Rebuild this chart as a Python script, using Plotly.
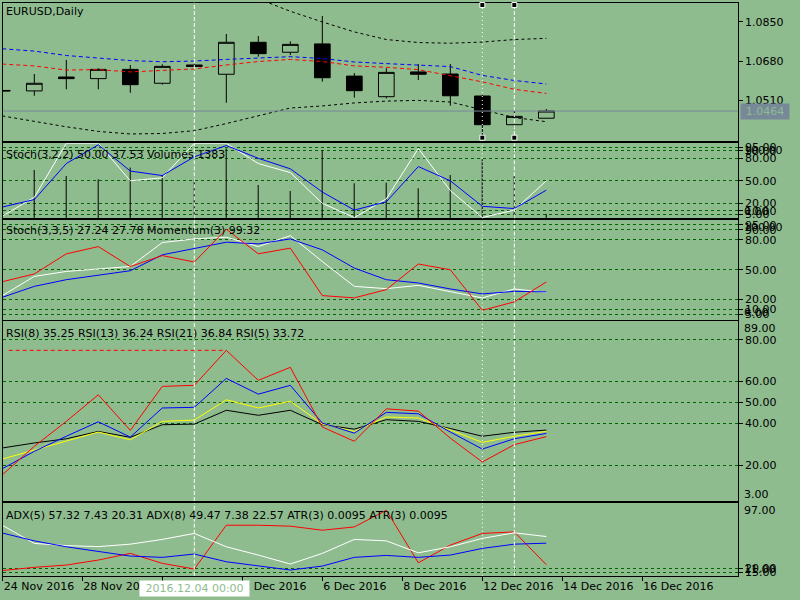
import plotly.graph_objects as go

BG = "#8FBC8F"
GRID = "#006400"
FONT = "DejaVu Sans"
FSIZE = 11

bars = list(range(18))

# EURUSD daily candles
opens = [1.0553, 1.0551, 1.0611, 1.0604, 1.0644, 1.0584, 1.0663, 1.0623, 1.0761, 1.0718,
         1.0754, 1.0615, 1.0526, 1.0633, 1.0624, 1.0529, 1.0405, 1.0433]
highs = [1.0556, 1.0624, 1.0685, 1.0649, 1.0663, 1.0666, 1.0665, 1.0797, 1.0788, 1.0765,
         1.0875, 1.0628, 1.0649, 1.0667, 1.0667, 1.0533, 1.0469, 1.0473]
lows = [1.0549, 1.0530, 1.0558, 1.0558, 1.0543, 1.0578, 1.0654, 1.0500, 1.0699, 1.0706,
        1.0591, 1.0522, 1.0519, 1.0598, 1.0487, 1.0353, 1.0392, 1.0432]
closes = [1.0551, 1.0584, 1.0604, 1.0644, 1.0578, 1.0657, 1.0657, 1.0761, 1.0712, 1.0752,
          1.0608, 1.0552, 1.0631, 1.0623, 1.0530, 1.0405, 1.0441, 1.0464]

# moving averages and envelope on the price chart
ma_blue = [1.0733, 1.0723, 1.0704, 1.0693, 1.0682, 1.0677, 1.0680, 1.0687, 1.0692, 1.0699,
           1.0691, 1.0676, 1.0669, 1.0661, 1.0656, 1.0618, 1.0596, 1.0581]
ma_red = [1.0667, 1.0659, 1.0641, 1.0643, 1.0633, 1.0639, 1.0646, 1.0663, 1.0678, 1.0687,
          1.0678, 1.0659, 1.0653, 1.0643, 1.0618, 1.0590, 1.0558, 1.0540]
band_up = [1.0987, 1.1009, 1.1030, 1.1030, 1.1022, 1.1009, 1.0987, 1.0961, 1.0949, 1.0895,
           1.0849, 1.0806, 1.0773, 1.0760, 1.0757, 1.0762, 1.0773, 1.0778]
band_dn = [1.0443, 1.0418, 1.0396, 1.0376, 1.0365, 1.0367, 1.0379, 1.0410, 1.0443, 1.0477,
           1.0486, 1.0499, 1.0507, 1.0510, 1.0503, 1.0470, 1.0436, 1.0418]

# Stoch(3,2,2) + Volumes
volumes = [14800, 15550, 13620, 12560, 16420, 13940, 12650, 22640, 10720, 8790,
           21990, 11270, 11460, 9660, 13940, 19090, 13620, 1383]
stoch1_main = [3, 28, 100, 100, 50, 54, 100, 100, 73, 61, 20, 1, 26, 93, 37, 1, 11, 50.00]
stoch1_sig = [15, 25, 73, 98, 63, 57, 82, 97, 80, 66, 35, 11, 22, 69, 50, 16, 13, 37.53]

# Stoch(3,3,5) + Momentum(3)
stoch2_main = [24, 43.3, 48.3, 51, 53.3, 77.3, 81, 82.7, 73.3, 84.3, 58.3, 33.3, 31, 34.3,
               28.3, 21.7, 30.7, 27.24]
stoch2_sig = [22.3, 33.3, 40, 44.3, 49, 65, 71.7, 77.7, 76, 81, 70, 51.7, 40, 36.7,
              30.7, 25.7, 28.3, 27.78]
momentum = [99.33, 99.64, 100.45, 100.74, 99.94, 100.38, 100.12, 101.44, 100.45, 100.68,
            98.77, 98.68, 99.01, 100.04, 99.81, 98.18, 98.52, 99.32]

# RSI
rsi5 = [15.5, 29.1, 41.0, 53.7, 36.7, 57.7, 58.2, 74.9, 60.6, 66.8, 38.3, 31.5, 47.0, 45.9,
        33.0, 21.6, 29.9, 33.72]
rsi8 = [18.4, 26.7, 33.9, 40.8, 33.5, 47.4, 47.7, 61.5, 54.0, 58.2, 40.2, 35.4, 45.3, 44.6,
        35.9, 27.8, 32.7, 35.25]
rsi13 = [23.0, 27.2, 31.5, 35.9, 32.2, 41.0, 41.6, 51.3, 47.4, 50.6, 39.7, 36.2, 43.1, 42.6,
         36.9, 31.0, 33.9, 36.24]
rsi21 = [28.3, 30.7, 32.7, 36.2, 33.4, 39.4, 39.7, 46.3, 43.9, 46.3, 39.4, 37.3, 41.8, 41.0,
         37.6, 33.9, 35.8, 36.84]

# ADX
adx5 = [70.7, 49.2, 46.6, 45.4, 48.3, 53.9, 61.0, 45.2, 35.4, 24.8, 37.4, 53.9, 52.2, 38.1,
        45.2, 55.1, 61.7, 57.32]
adx8 = [61.5, 52.2, 45.2, 39.3, 34.2, 32.7, 36.6, 27.5, 22.4, 17.7, 22.4, 32.7, 35.0, 32.7,
        35.4, 43.3, 48.3, 49.47]
adx_di = [17.1, 20.9, 23.6, 29.5, 37.4, 25.6, 18.9, 70.7, 70.7, 69.6, 64.8, 68.7, 88.4, 26.3,
          47.2, 61.0, 62.8, 24.0]

# time axis
date_ticks = [0.0125, 2.5, 5, 7.5, 10, 12.5, 15, 17.5, 20]
date_labels = ["24 Nov 2016", "28 Nov 2016", "30 Nov 2016", "2 Dec 2016", "6 Dec 2016",
               "8 Dec 2016", "12 Dec 2016", "14 Dec 2016", "16 Dec 2016"]
price_ticks = [1.0510, 1.0680, 1.0850]
stoch_ticks = [5, 10, 20, 50, 80, 90, 95]
rsi_ticks = [20, 40, 50, 60, 80]
adx_ticks = [15, 20]

dashed_bars = [6, 16]
dotted_bars = [15]


def px_y(pix):
    return 1 - pix / 600


def dom(top, bottom):
    return [px_y(bottom), px_y(top)]


def merge(*parts, **extra):
    out = {}
    for p in parts:
        out.update(p)
    out.update(extra)
    return out


XD = [2.7 / 800, 737.7 / 800]
XR = [0.0125, 22.98]
TXT = dict(family=FONT, size=FSIZE, color="black")


def line(y, color, xa, ya, dash="solid"):
    return go.Scatter(x=bars, y=y, mode="lines", line=dict(color=color, width=1, dash=dash),
                      xaxis=xa, yaxis=ya, hoverinfo="skip", showlegend=False)


fig = go.Figure()

fig.add_trace(go.Candlestick(
    x=bars, open=opens, high=highs, low=lows, close=closes,
    increasing=dict(line=dict(color="black", width=1), fillcolor="rgba(0,0,0,0)"),
    decreasing=dict(line=dict(color="black", width=1), fillcolor="black"),
    whiskerwidth=0, hoverinfo="skip", showlegend=False, xaxis="x", yaxis="y"))
fig.add_trace(line(band_up, "black", "x", "y", "3px,3px"))
fig.add_trace(line(band_dn, "black", "x", "y", "3px,3px"))
fig.add_trace(line(ma_blue, "#0000FF", "x", "y", "4px,3px"))
fig.add_trace(line(ma_red, "#FF0000", "x", "y", "4px,3px"))

fig.add_trace(go.Bar(x=bars, y=volumes, width=0.02, marker=dict(color="black", line=dict(width=0)),
                     xaxis="x2", yaxis="y2", hoverinfo="skip", showlegend=False))
fig.add_trace(line(stoch1_main, "white", "x2", "y3"))
fig.add_trace(line(stoch1_sig, "#0000FF", "x2", "y3"))

fig.add_trace(line(stoch2_main, "white", "x3", "y4"))
fig.add_trace(line(stoch2_sig, "#0000FF", "x3", "y4"))
fig.add_trace(line(momentum, "#FF0000", "x3", "y5"))

fig.add_trace(line(rsi21, "black", "x4", "y6"))
fig.add_trace(line(rsi13, "#FFFF00", "x4", "y6"))
fig.add_trace(line(rsi8, "#0000FF", "x4", "y6"))
fig.add_trace(line(rsi5, "#FF0000", "x4", "y6"))

fig.add_trace(line(adx_di, "#FF0000", "x5", "y7"))
fig.add_trace(line(adx5, "white", "x5", "y7"))
fig.add_trace(line(adx8, "#0000FF", "x5", "y7"))

xcommon = dict(domain=XD, range=XR, showline=True, mirror=True, linecolor="black", linewidth=1,
               showgrid=False, zeroline=False, showticklabels=False, ticks="", fixedrange=True,
               automargin=False)
ycommon = dict(side="right", showline=True, mirror=True, linecolor="black", linewidth=1,
               ticks="outside", ticklen=4, tickcolor="black", zeroline=False, fixedrange=True,
               automargin=False, tickfont=TXT)
gridstyle = dict(showgrid=True, gridcolor=GRID, gridwidth=1, griddash="3px,3px")


def fmt(vals):
    return ["%.2f" % v for v in vals]


fig.update_layout(
    width=800, height=600, margin=dict(l=0, r=0, t=0, b=0, pad=0, autoexpand=False),
    paper_bgcolor=BG, plot_bgcolor=BG, showlegend=False,
    font=TXT,
    xaxis=merge(xcommon, anchor="y", rangeslider=dict(visible=False)),
    xaxis2=merge(xcommon, anchor="y2", matches="x"),
    xaxis3=merge(xcommon, anchor="y4", matches="x"),
    xaxis4=merge(xcommon, anchor="y6", matches="x"),
    xaxis5=merge(xcommon, anchor="y7", matches="x", ticks="outside", ticklen=4, tickcolor="black",
                 showticklabels=True, tickvals=date_ticks, ticktext=date_labels,
                 ticklabelposition="outside right", tickfont=TXT),
    yaxis=merge(ycommon, anchor="x", domain=dom(2.7, 141), range=[1.03346, 1.09321],
                tickvals=price_ticks, ticktext=["%.4f" % v for v in price_ticks], showgrid=False),
    yaxis2=dict(anchor="x2", domain=dom(143.3, 218.3), range=[0, 24200], showline=True,
                mirror=True, linecolor="black", linewidth=1, ticks="", showticklabels=False,
                showgrid=False, zeroline=False, fixedrange=True, automargin=False),
    yaxis3=merge(ycommon, gridstyle, anchor="x2", overlaying="y2", domain=dom(143.3, 218.3),
                 range=[0, 100], tickvals=stoch_ticks, ticktext=fmt(stoch_ticks), showline=False),
    yaxis4=merge(ycommon, gridstyle, anchor="x3", domain=dom(220, 319.5), range=[0, 100],
                 tickvals=stoch_ticks, ticktext=fmt(stoch_ticks)),
    yaxis5=dict(anchor="x3", overlaying="y4", range=[97.81, 101.81], visible=False,
                fixedrange=True),
    yaxis6=merge(ycommon, gridstyle, anchor="x4", domain=dom(320.8, 501), range=[3, 89],
                 tickvals=rsi_ticks, ticktext=fmt(rsi_ticks)),
    yaxis7=merge(ycommon, gridstyle, anchor="x5", domain=dom(503, 575.7), range=[11, 97],
                 tickvals=adx_ticks, ticktext=fmt(adx_ticks)),
)

# vertical lines crossing every window
shapes = []
panels = [("x", "y"), ("x2", "y2"), ("x3", "y4"), ("x4", "y6"), ("x5", "y7")]
for xa, ya in panels:
    for b in dashed_bars:
        shapes.append(dict(type="line", xref=xa, yref=ya + " domain", x0=b, x1=b, y0=0, y1=1,
                           line=dict(color="white", width=1, dash="4px,2px")))
    for b in dotted_bars:
        shapes.append(dict(type="line", xref=xa, yref=ya + " domain", x0=b, x1=b, y0=0, y1=1,
                           line=dict(color="white", width=1, dash="1px,3px")))

# anchor points of the selected vertical lines
for b in dashed_bars[1:] + dotted_bars:
    for frac in (0.983, 0.024):
        shapes.append(dict(type="rect", xref="x", yref="y domain", xsizemode="pixel",
                           ysizemode="pixel", xanchor=b, yanchor=frac, x0=-2.5, x1=2.5,
                           y0=-2.5, y1=2.5, fillcolor="black", line=dict(color="white", width=1)))

# bid line
shapes.append(dict(type="line", xref="x domain", yref="y", x0=0, x1=1, y0=closes[-1],
                   y1=closes[-1], line=dict(color="#778899", width=1)))

# RSI(5) peak level
peak = rsi5.index(max(rsi5))
shapes.append(dict(type="line", xref="x4", yref="y6", x0=0.2, x1=peak, y0=rsi5[peak],
                   y1=rsi5[peak], line=dict(color="#FF0000", width=1, dash="4px,3px")))

fig.update_layout(shapes=shapes)

ann = []
titles = [
    ("EURUSD,Daily", 11.7),
    ("Stoch(3,2,2) %.2f %.2f Volumes %d" % (stoch1_main[-1], stoch1_sig[-1], volumes[-1]), 155),
    ("Stoch(3,3,5) %.2f %.2f Momentum(3) %.2f" % (stoch2_main[-1], stoch2_sig[-1], momentum[-1]),
     230.7),
    ("RSI(8) %.2f RSI(13) %.2f RSI(21) %.2f RSI(5) %.2f" % (rsi8[-1], rsi13[-1], rsi21[-1],
                                                          rsi5[-1]), 333),
    ("ADX(5) 57.32 7.43 20.31 ADX(8) 49.47 7.38 22.57 ATR(3) 0.0095 ATR(3) 0.0095", 515),
]
for text, ypix in titles:
    ann.append(dict(text=text, xref="paper", yref="paper", x=4 / 800, y=px_y(ypix),
                    xanchor="left", yanchor="middle", showarrow=False, font=TXT))

# window max / min labels
for text, ypix in [("100.00", 150.3), ("0.00", 211.3), ("100.00", 227.3), ("0.00", 312.5),
                   ("89.00", 328), ("3.00", 494), ("97.00", 510), ("11.00", 569)]:
    ann.append(dict(text=text, xref="paper", yref="paper", x=742 / 800, y=px_y(ypix),
                    xanchor="left", yanchor="middle", showarrow=False, font=TXT))

# current price label
ann.append(dict(text="%.4f" % closes[-1], xref="paper", yref="y", x=740 / 800, y=closes[-1],
                xanchor="left", yanchor="middle", showarrow=False, bgcolor="#778899",
                width=46, height=13, font=dict(family=FONT, size=FSIZE, color=BG)))

# crosshair time label
ann.append(dict(text="2016.12.04 00:00", xref="x5", yref="paper", x=dashed_bars[0],
                y=px_y(588.3), xanchor="center", yanchor="middle", showarrow=False,
                bgcolor="white", width=107, height=13,
                font=dict(family=FONT, size=FSIZE, color=BG)))

fig.update_layout(annotations=ann)

# the page body has a default margin; drop it so the chart sits at the window corner
fig.write_html("out.html", config={"displayModeBar": False},
               post_script="document.body.style.margin='0';")
